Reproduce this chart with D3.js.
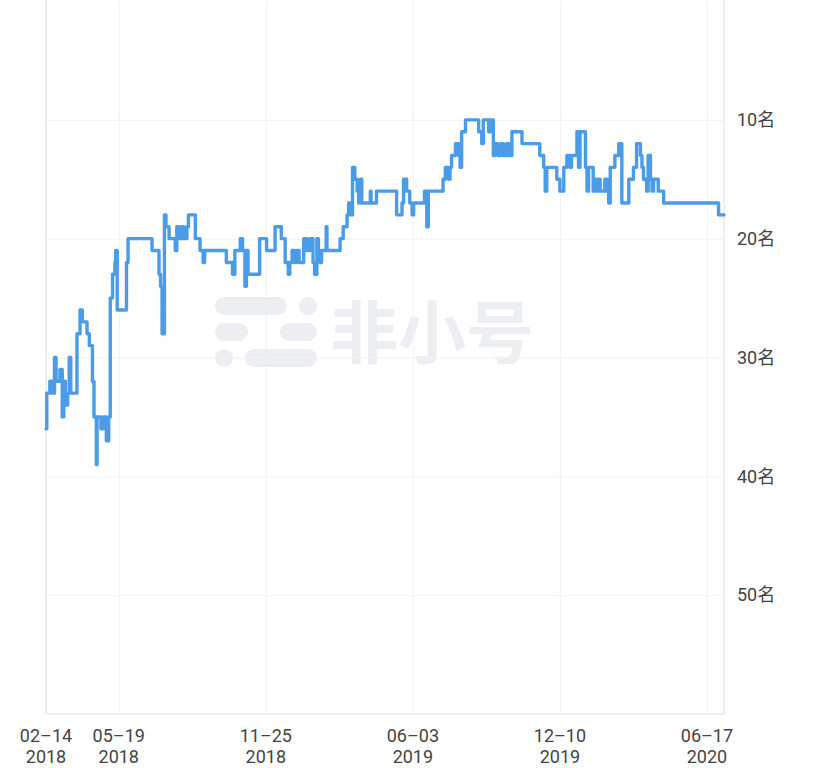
<!DOCTYPE html>
<html>
<head>
<meta charset="utf-8">
<script src="https://cdn.jsdelivr.net/npm/d3@7/dist/d3.min.js"></script>
<style>
  html, body { margin: 0; padding: 0; background: #fff; }
  svg { display: block; }
</style>
</head>
<body>
<svg id="chart" width="822" height="768"></svg>
<script>
// ---- data (rank change points; rank held until next date) ----
const dates = [
"2018-02-14","2018-02-15","2018-02-19","2018-02-22","2018-02-25","2018-02-27","2018-03-04","2018-03-07","2018-03-09","2018-03-11",
"2018-03-14","2018-03-16","2018-03-18","2018-03-26","2018-03-30","2018-04-02","2018-04-08","2018-04-11","2018-04-15","2018-04-17",
"2018-04-20","2018-04-21","2018-04-26","2018-04-29","2018-05-03","2018-05-06","2018-05-08","2018-05-11","2018-05-14","2018-05-15",
"2018-05-17","2018-05-29","2018-05-31","2018-07-01","2018-07-10","2018-07-12","2018-07-14","2018-07-17","2018-07-19","2018-07-23",
"2018-07-31","2018-08-02","2018-08-05","2018-08-08","2018-08-11","2018-08-15","2018-08-17","2018-08-26","2018-09-01","2018-09-05",
"2018-09-07","2018-10-05","2018-10-13","2018-10-16","2018-10-23","2018-10-26","2018-10-29","2018-10-31","2018-11-02","2018-11-17",
"2018-11-26","2018-12-07","2018-12-15","2018-12-20","2018-12-24","2018-12-26","2018-12-29","2019-01-01","2019-01-04","2019-01-07",
"2019-01-13","2019-01-17","2019-01-21","2019-01-25","2019-01-27","2019-01-30","2019-02-01","2019-02-03","2019-02-05","2019-02-11",
"2019-02-12","2019-03-01","2019-03-05","2019-03-10","2019-03-12","2019-03-14","2019-03-17","2019-03-20","2019-03-23","2019-03-25",
"2019-03-27","2019-03-29","2019-04-09","2019-04-10","2019-04-17","2019-05-13","2019-05-20","2019-05-22","2019-05-26","2019-05-30",
"2019-06-02","2019-06-04","2019-06-18","2019-06-21","2019-06-23","2019-07-12","2019-07-15","2019-07-19","2019-07-21","2019-07-23",
"2019-07-28","2019-08-01","2019-08-03","2019-08-05","2019-08-10","2019-08-27","2019-08-31","2019-09-02","2019-09-09","2019-09-11",
"2019-09-15","2019-09-17","2019-09-21","2019-09-25","2019-09-28","2019-10-02","2019-10-05","2019-10-09","2019-10-22","2019-11-14",
"2019-11-19","2019-11-21","2019-11-23","2019-12-06","2019-12-10","2019-12-15","2019-12-19","2019-12-23","2019-12-25","2020-01-01",
"2020-01-03","2020-01-05","2020-01-12","2020-01-14","2020-01-16","2020-01-22","2020-01-25","2020-01-27","2020-01-29","2020-01-31",
"2020-02-06","2020-02-09","2020-02-11","2020-02-13","2020-02-19","2020-02-24","2020-02-28","2020-03-08","2020-03-14","2020-03-18",
"2020-03-23","2020-03-25","2020-03-27","2020-03-31","2020-04-02","2020-04-05","2020-04-07","2020-04-09","2020-04-15","2020-04-22",
"2020-07-02","2020-07-09"
];
const ranks = [
36,33,32,33,30,32,31,35,32,34,
33,30,33,28,26,27,28,29,32,35,
39,35,36,35,37,35,25,23,22,21,
26,22,20,21,23,24,28,18,19,20,
21,19,20,19,20,19,18,20,21,22,
21,22,23,21,20,21,24,21,23,20,
21,19,20,22,23,22,21,22,21,22,
20,21,20,22,23,20,21,22,21,19,
21,20,19,18,17,18,14,15,16,17,
15,17,16,17,16,18,17,15,16,17,
18,17,16,19,16,15,14,15,14,13,
12,13,14,11,10,11,12,10,11,10,
13,12,13,12,13,12,13,11,12,13,
14,16,14,15,16,14,13,14,13,11,
14,11,14,16,14,16,15,16,15,16,
15,16,17,14,13,12,17,15,14,12,
13,14,15,16,13,15,16,15,16,17,
18,18
];
const xTickDates = ["2018-02-14","2018-05-19","2018-11-25","2019-06-03","2019-12-10","2020-06-17"];
const yTicks = [10, 20, 30, 40, 50];
const yDomain = [0, 60];
const xDomain = ["2018-02-14", "2020-07-09"];
const watermarkText = "非小号";

// ---- layout ----
const svg = d3.select("#chart");
const L = 46, R = 724, T = 1, B = 714;
const parse = d3.utcParse("%Y-%m-%d");
const data = dates.map((d, i) => ({ date: parse(d), rank: ranks[i] }));
const tickDates = xTickDates.map(parse);

const x = d3.scaleUtc().domain(xDomain.map(parse)).range([L, R]);
const y = d3.scaleLinear().domain(yDomain).range([T, B]);

// watermark
const wm = svg.append("g").attr("fill", "#eceef2");
const pills = [
  [215, 297, 72, 18], [299, 297, 18, 18],
  [215, 323, 33, 18], [280, 323, 37, 18],
  [215, 349, 18, 18], [245, 349, 72, 18]
];
wm.selectAll("rect").data(pills).join("rect")
  .attr("x", d => d[0]).attr("y", d => d[1])
  .attr("width", d => d[2]).attr("height", d => d[3])
  .attr("rx", 9);
wm.append("text")
  .attr("x", 330).attr("y", 358)
  .attr("font-family", "'Noto Sans CJK SC', sans-serif")
  .attr("font-weight", 700)
  .attr("font-size", 68)
  .text(watermarkText);

// horizontal grid
svg.append("g")
  .attr("transform", `translate(${L},0)`)
  .call(d3.axisLeft(y).tickValues(yTicks).tickSize(-(R - L)).tickFormat(""))
  .call(g => g.select(".domain").remove())
  .call(g => g.selectAll("line").attr("stroke", "#f1f2f6").attr("stroke-width", 1));

// vertical grid
svg.append("g")
  .attr("transform", `translate(0,${B})`)
  .call(d3.axisBottom(x).tickValues(tickDates).tickSize(-(B - T)).tickFormat(""))
  .call(g => g.select(".domain").remove())
  .call(g => g.selectAll("line").attr("stroke", "#f1f2f6").attr("stroke-width", 1));

// frame
const frame = svg.append("g").attr("stroke", "#e1e4ec").attr("stroke-width", 1.2).attr("fill", "none");
frame.append("line").attr("x1", L).attr("x2", L).attr("y1", 0).attr("y2", B);
frame.append("line").attr("x1", R).attr("x2", R).attr("y1", 0).attr("y2", B);
frame.append("line").attr("x1", L).attr("x2", R).attr("y1", B).attr("y2", B);

// line
const line = d3.line()
  .x(d => x(d.date))
  .y(d => y(d.rank))
  .curve(d3.curveStepAfter);
svg.append("path")
  .datum(data)
  .attr("fill", "none")
  .attr("stroke", "#4a9be8")
  .attr("stroke-width", 3.4)
  .attr("stroke-linejoin", "round")
  .attr("stroke-linecap", "round")
  .attr("d", line);

// y axis labels (right)
svg.append("g")
  .attr("transform", `translate(${R},0)`)
  .call(d3.axisRight(y).tickValues(yTicks).tickSize(0).tickPadding(13).tickFormat(d => d + "名"))
  .call(g => g.select(".domain").remove())
  .call(g => g.selectAll("text")
    .attr("fill", "#444")
    .attr("font-size", 18)
    .attr("font-family", "Roboto, 'Noto Sans CJK SC', sans-serif"));

// x axis labels (two separate lines)
const fmtMD = d3.utcFormat("%m-%d"), fmtY = d3.utcFormat("%Y");
const xLab = svg.append("g")
  .attr("fill", "#444")
  .attr("font-size", 18)
  .attr("font-family", "Roboto, sans-serif")
  .attr("text-anchor", "middle");
xLab.selectAll("text.md").data(tickDates).join("text")
  .attr("class", "md")
  .attr("x", d => x(d)).attr("y", 742)
  .text(d => fmtMD(d).replace("-", "–"));
xLab.selectAll("text.yr").data(tickDates).join("text")
  .attr("class", "yr")
  .attr("x", d => x(d)).attr("y", 763)
  .text(d => fmtY(d));
</script>
</body>
</html>
